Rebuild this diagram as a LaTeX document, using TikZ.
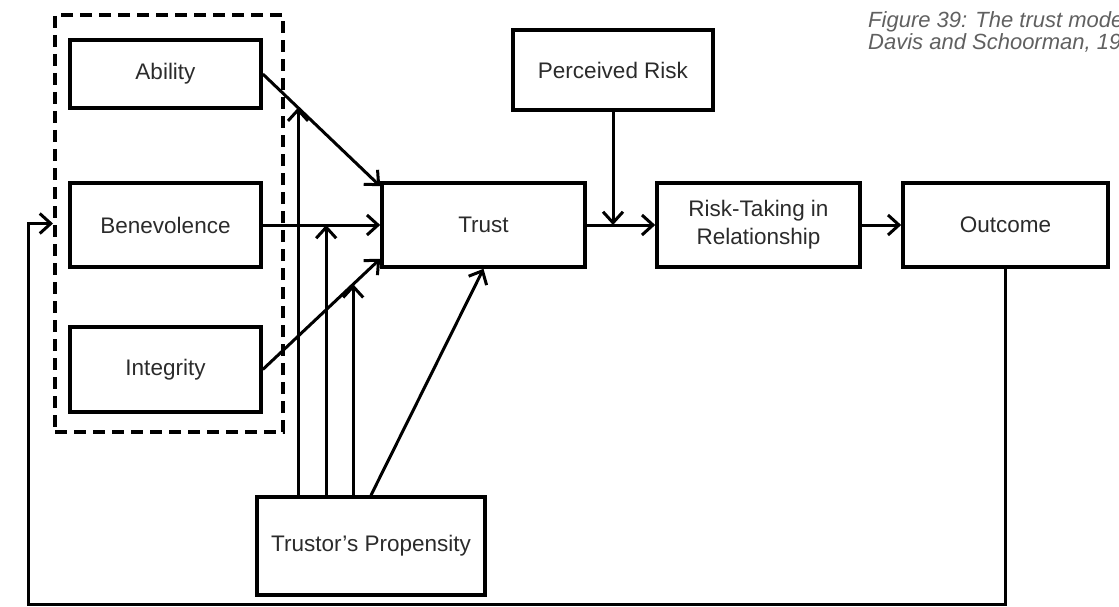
\documentclass[tikz,border=0pt]{standalone}
\usepackage{fontspec}
\setmainfont{Liberation Sans}
\usetikzlibrary{arrows.meta,calc}
\definecolor{txt}{HTML}{2B2B2B}
\definecolor{capgray}{HTML}{606060}
\begin{document}
\begin{tikzpicture}[x=1pt,y=-1pt,
  box/.style={draw=black,line width=3.6pt,inner sep=0pt,text=txt,align=center,
    font=\fontsize{22.5}{28}\selectfont},
  grpbox/.style={draw=black,line width=4pt,dash pattern=on 12pt off 7pt,inner sep=0pt},
  arr/.style={draw=black,line width=3pt,-{Straight Barb[length=11pt,width=20pt]}},
  captext/.style={font=\fontsize{22}{26}\selectfont\itshape,text=capgray,inner sep=0pt,anchor=base west}]
\clip (0,0) rectangle (1119,607);

% caption (runs off the right edge)
\node[captext] (cap1) at (868,28) {Figure 39: The trust model};
\node[captext] (cap2) at (868,50) {Davis and Schoorman, 1995};

% factors of perceived trustworthiness
\node[grpbox,minimum width=228pt,minimum height=417pt] (grp) at (169,223.5) {};
\node[box,minimum width=191pt,minimum height=68pt] (abil) at (165.5,74) {Ability};
\node[box,minimum width=191pt,minimum height=84pt] (benev) at (165.5,225) {Benevolence};
\node[box,minimum width=191pt,minimum height=85pt] (integ) at (165.5,369.5) {Integrity};

% main chain
\node[box,minimum width=203pt,minimum height=84pt] (trust) at (483.5,225) {Trust};
\node[box,minimum width=203pt,minimum height=84pt] (risk) at (758.5,225) {Risk-Taking in\\Relationship};
\node[box,minimum width=205pt,minimum height=84pt] (out) at (1005.5,225) {Outcome};
\node[box,minimum width=200pt,minimum height=80pt] (perc) at (613,70) {Perceived Risk};
\node[box,minimum width=228pt,minimum height=98pt] (prop) at (371,546) {Trustor's Propensity};

% factors into trust
\coordinate (tA) at ([yshift=-5pt]trust.north west);
\coordinate (tI) at ([yshift=10pt]trust.south west);
\draw[arr] (abil.east) -- (tA);
\draw[arr] (benev.east) -- (trust.west);
\draw[arr] (integ.east) -- (tI);

% propensity moderates each factor and acts on trust
\coordinate (j1) at ($(abil.east)!0.30!(tA)$);
\coordinate (j2) at ($(benev.east)!0.54!(trust.west)$);
\coordinate (j3) at ($(integ.east)!0.77!(tI)$);
\draw[arr] (j1 |- prop.north) -- (j1);
\draw[arr] (j2 |- prop.north) -- (j2);
\draw[arr] (j3 |- prop.north) -- (j3);
\draw[arr] (prop.north) -- (trust.south);

% trust to risk taking to outcome
\draw[arr] (trust.east) -- (risk.west);
\draw[arr] (perc.south) -- (perc.south |- trust.east);
\draw[arr] (risk.east) -- (out.west);

% feedback loop
\coordinate (base) at (0,604);
\draw[arr] (out.south) -- (out.south |- base) -| ([xshift=-25pt]grp.west) -- (grp.west);
\end{tikzpicture}
\end{document}
